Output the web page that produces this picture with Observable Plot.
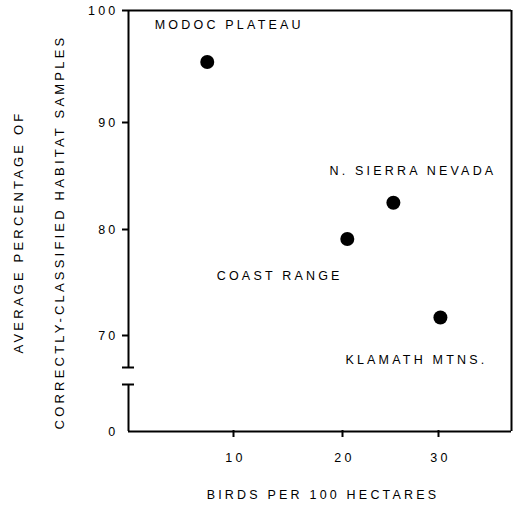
<!DOCTYPE html>
<html><head><meta charset="utf-8">
<script src="https://cdn.jsdelivr.net/npm/d3@7"></script>
<script src="https://cdn.jsdelivr.net/npm/@observablehq/plot@0.6"></script>
<style>
body{margin:0;background:#fff}
#chart svg{display:block}
</style></head><body><div id="chart"></div>
<script>
// Data
const regions = ["MODOC PLATEAU", "N. SIERRA NEVADA", "COAST RANGE", "KLAMATH MTNS."];
const birds = [7.5, 25.3, 20.5, 30.2];          // birds per 100 ha
const pctCorrect = [95.4, 82.5, 79.1, 71.7];    // avg % correctly classified
const labelBirds = [2.5, 18.8, 8.4, 20.3];      // label anchor (data units)
const labelPct = [98.7, 85.5, 75.6, 67.75];
const xTicks = [10, 20, 30];
const yTicks = [0, 70, 80, 90, 100];
const yBreak = [56, 67];                         // axis break between these values
const xMax = 37.6, yMax = 100;
const xLabel = "BIRDS PER 100 HECTARES";
const yLabel = ["AVERAGE PERCENTAGE OF", "CORRECTLY-CLASSIFIED HABITAT SAMPLES"];

const points = regions.map((r, i) => ({region: r, birds: birds[i], pct: pctCorrect[i]}));
const labels = regions.map((r, i) => ({region: r, x: labelBirds[i], y: labelPct[i]}));

const W = 515, H = 505;
const mL = 128, mR = 4, mT = 10, mB = 74;
const fw = W - mL - mR, fh = H - mT - mB;

// hand-drawn (slightly uneven) axes and the broken y axis, as scale transforms
const xWarp = d3.scaleLinear().domain([0, 10, 20, 30, xMax]).range([0, 105, 214, 310, fw]);
const yWarp = d3.scaleLinear().domain([0, yBreak[0], yBreak[1], 70, 80, 90, yMax]).range([0, 47, 64, 96, 202, 309, fh]);

const font = "'Liberation Sans', Arial, sans-serif";

const chart = Plot.plot({
  width: W, height: H,
  marginLeft: mL, marginRight: mR, marginTop: mT, marginBottom: mB,
  style: {fontFamily: font, fontSize: "12.5px", letterSpacing: "3.2px", color: "#000", background: "#fff"},
  x: {transform: xWarp, domain: [0, fw], range: [mL, W - mR], axis: null},
  y: {transform: yWarp, domain: [0, fh], range: [H - mB, mT], axis: null},
  marks: [
    // frame: top, right, bottom
    Plot.ruleY([yMax], {x1: 0, x2: xMax, strokeWidth: 2}),
    Plot.ruleX([xMax], {y1: 0, y2: yMax, strokeWidth: 2}),
    Plot.ruleY([0], {x1: 0, x2: xMax, strokeWidth: 2}),
    // left axis with break
    Plot.ruleX([{a: 0, b: yBreak[0]}, {a: yBreak[1], b: yMax}], {x: () => 0, y1: "a", y2: "b", strokeWidth: 2}),
    Plot.ruleY(yBreak, {x1: () => 0, x2: () => 0, insetLeft: -6, insetRight: -6, strokeWidth: 2}),
    // y ticks and labels
    Plot.ruleY(yTicks.filter(d => d > 0), {x1: () => 0, x2: () => 0, insetLeft: -6, strokeWidth: 2}),
    Plot.text(yTicks, {x: () => 0, y: d => d, text: d => String(d), textAnchor: "end", dx: -10, fontSize: 12.5}),
    // x ticks and labels
    Plot.ruleX(xTicks, {y1: () => 0, y2: () => 0, insetBottom: -6, insetTop: -1, strokeWidth: 2}),
    Plot.text(xTicks, {x: d => d, y: () => 0, text: d => String(d), dx: 2, dy: 26, fontSize: 12.5}),
    // points
    Plot.dot(points, {x: "birds", y: "pct", r: 7, fill: "#000", stroke: "none"}),
    // point labels
    Plot.text(labels, {x: "x", y: "y", text: "region", textAnchor: "start", lineAnchor: "middle", fontSize: 12.5}),
    // axis titles
    Plot.text([xLabel], {frameAnchor: "bottom", dx: 3, dy: 67, fontSize: 12.5}),
    Plot.text([yLabel.join("\n")], {frameAnchor: "left", textAnchor: "middle", rotate: -90, dx: -98, dy: 11, lineHeight: 3.15, fontSize: 13})
  ]
});
document.getElementById("chart").appendChild(chart);
</script>
</body></html>
